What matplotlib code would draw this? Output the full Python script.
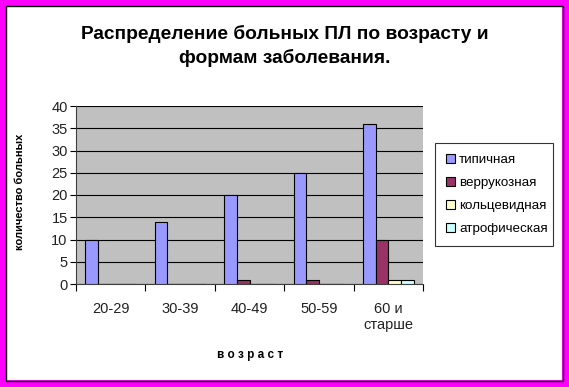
import numpy as np
import matplotlib.pyplot as plt
from matplotlib.patches import Rectangle

plt.rcParams['font.family'] = ['Liberation Sans', 'DejaVu Sans']

groups = ['20-29', '30-39', '40-49', '50-59', '60 и\nстарше']
typical = [10, 14, 20, 25, 36]
verrucous = [0, 0, 1, 1, 10]
ring = [0, 0, 0, 0, 1]
atrophic = [0, 0, 0, 0, 1]
series_names = ['типичная', 'веррукозная', 'кольцевидная', 'атрофическая']
colors = ['#9999FF', '#993366', '#FFFFCC', '#CCFFFF']

W, H = 569, 387
fig = plt.figure(figsize=(W / 100, H / 100), dpi=100)

# plot area in pixels: x 76..423, y 106..284
ax = fig.add_axes([76 / W, 1 - 284 / H, (423 - 76) / W, (284 - 106) / H])
ax.set_facecolor('#C0C0C0')

w = 1 / 5.5
x = np.arange(len(groups))
for i, (vals, c) in enumerate(zip([typical, verrucous, ring, atrophic], colors)):
    ax.bar(x - 2 * w + (i + 0.5) * w, vals, width=w, color=c, edgecolor='black',
           linewidth=0.8, label=series_names[i], zorder=3)

ax.set_xlim(-0.5, 4.5)
ax.set_ylim(0, 40)
ax.set_yticks(range(0, 41, 5))
ax.yaxis.grid(True, color='black', linewidth=0.8, zorder=1)
ax.set_axisbelow(True)
ax.set_xticks(np.arange(-0.5, 5, 1))
ax.set_xticklabels([])
ax.set_xticks(x, minor=True)
ax.set_xticklabels(groups, minor=True, fontsize=10.5, color='#222222')
ax.tick_params(axis='x', which='minor', length=0, pad=13)
ax.tick_params(axis='x', which='major', length=5, direction='out', width=0.8)
ax.tick_params(axis='y', labelsize=10.5, labelcolor='#222222', length=4,
               direction='out', width=0.8, pad=2)
for s in ['top', 'right']:
    ax.spines[s].set_visible(False)
for s in ['left', 'bottom']:
    ax.spines[s].set_linewidth(0.8)
    ax.spines[s].set_color('#404040')

fig.text(285 / W, 1 - 46 / H, 'Распределение больных ПЛ по возрасту и\nформам заболевания.',
         ha='center', va='center', fontsize=13.8, fontweight='bold', linespacing=1.45)
fig.text(250 / W, 1 - 355 / H, 'в о з р а с т', ha='center', va='center',
         fontsize=8.5, fontweight='bold')
fig.text(20 / W, 1 - 192 / H, 'количество больных', rotation=90, ha='center',
         va='center', fontsize=8, fontweight='bold')

leg = ax.legend(loc='upper left', bbox_to_anchor=(435 / W, 1 - 245 / H, 118 / W, 102 / H),
                bbox_transform=fig.transFigure, mode='expand', frameon=True,
                fancybox=False, edgecolor='black', fontsize=9.6, handlelength=0.7,
                handleheight=0.7, handletextpad=0.3, labelspacing=0.8,
                borderaxespad=0, borderpad=0.8)
leg.get_frame().set_linewidth(0.8)

# magenta frame
fig.patches.append(Rectangle((0, 0), 1, 1, transform=fig.transFigure, fill=False,
                             edgecolor='#FF00FF', linewidth=10, zorder=10))
fig.patches.append(Rectangle((6 / W, 6 / H), 1 - 12 / W, 1 - 12 / H, transform=fig.transFigure,
                             fill=False, edgecolor='black', linewidth=1, zorder=11))

fig.savefig('out.png', dpi=100)
